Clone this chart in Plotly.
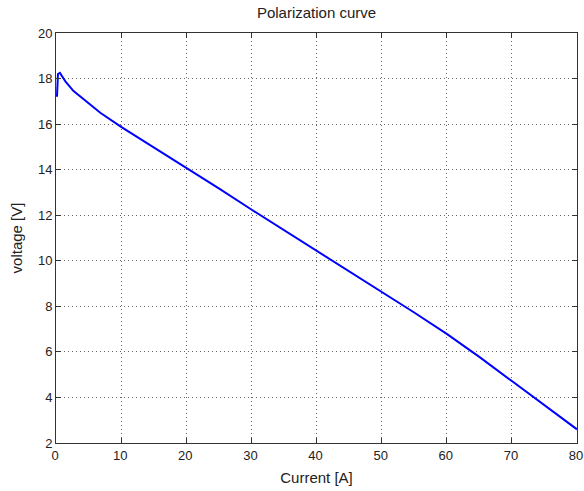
import plotly.graph_objects as go

current = [0.15, 0.2, 0.3, 0.6, 1.5, 2.7, 5, 6.8, 10, 15, 20, 25, 30, 35, 40, 45, 50, 55, 60, 65, 70, 75, 80]
voltage = [17.2, 17.8, 18.2, 18.25, 17.85, 17.45, 16.92, 16.5, 15.88, 14.98, 14.1, 13.18, 12.25, 11.35, 10.45, 9.55, 8.65, 7.73, 6.79, 5.78, 4.72, 3.66, 2.6]

x_ticks = [0, 10, 20, 30, 40, 50, 60, 70, 80]
y_ticks = [2, 4, 6, 8, 10, 12, 14, 16, 18, 20]

tick_font = dict(family="Liberation Sans, Arial", size=13, color="#222222")
label_font = dict(family="Liberation Sans, Arial", size=15, color="#222222")

fig = go.Figure()
fig.add_trace(go.Scatter(x=current, y=voltage, mode="lines",
                         line=dict(color="#0000FF", width=2), showlegend=False))

axis_common = dict(
    showline=True, linecolor="#333333", linewidth=1, mirror="ticks",
    ticks="inside", ticklen=5, tickcolor="#333333", automargin=False,
    showgrid=True, gridcolor="#666666", griddash="1px,3px", gridwidth=1,
    zeroline=False, tickfont=tick_font,
)

fig.update_xaxes(range=[0, 80], tickvals=x_ticks, ticklabelshift=-1,
                 title=dict(text="Current [A]", standoff=10, font=label_font), **axis_common)
fig.update_yaxes(range=[2, 20], tickvals=y_ticks,
                 title=dict(text="voltage [V]", standoff=11, font=label_font), **axis_common)

fig.update_layout(
    width=584, height=491,
    margin=dict(l=56, r=7, t=33, b=48),
    paper_bgcolor="white", plot_bgcolor="white",
    title=dict(text="Polarization curve", x=(56 + 577) / 2 / 584, xanchor="center",
               y=1 - 13 / 491, yanchor="middle", font=label_font),
)

fig.write_html("out.html", config={"displayModeBar": False},
               post_script="document.body.style.margin='0';document.body.style.overflow='hidden';")
